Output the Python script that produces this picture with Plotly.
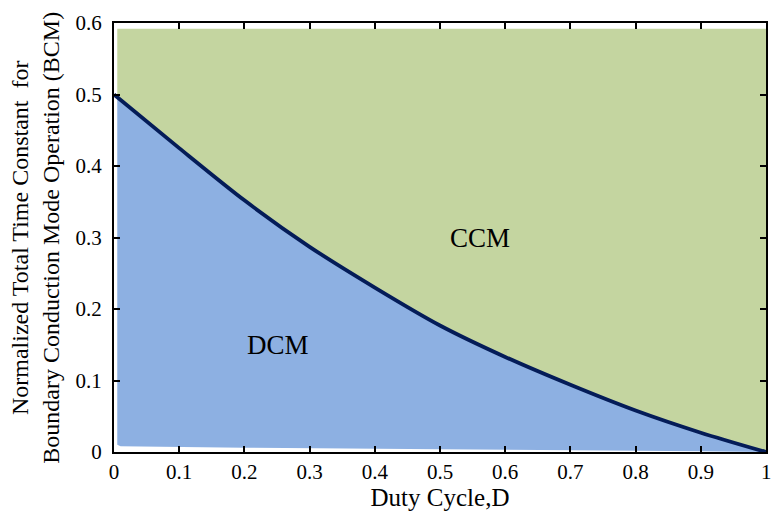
import plotly.graph_objects as go

# Data
duty = [0.0, 0.1, 0.2, 0.3, 0.4, 0.5, 0.6, 0.7, 0.8, 0.9, 1.0]
bcm_tau = [0.5, 0.425, 0.352, 0.287, 0.230, 0.177, 0.133, 0.094, 0.058, 0.027, 0.0]

# DCM region lower edge (slight offset above zero as in the reference)
dcm_bottom_x = [1.0, 0.9, 0.5, 0.2, 0.01, 0.005]
dcm_bottom_y = [0.0, 0.001, 0.004, 0.006, 0.008, 0.01]
ccm_top = 0.592
fill_left = 0.005

x_ticks = [0, 0.1, 0.2, 0.3, 0.4, 0.5, 0.6, 0.7, 0.8, 0.9, 1]
x_tick_text = ["0", "0.1", "0.2", "0.3", "0.4", "0.5", "0.6", "0.7", "0.8", "0.9", "1"]
y_ticks = [0, 0.1, 0.2, 0.3, 0.4, 0.5, 0.6]
y_tick_text = ["0", "0.1", "0.2", "0.3", "0.4", "0.5", "0.6"]

region_labels = ["CCM", "DCM"]
label_x = [0.562, 0.252]
label_y = [0.299, 0.150]

GREEN = "#c4d5a0"
BLUE = "#8db0e2"
LINE = "#041c58"
FONT = "Liberation Serif"

fig = go.Figure()

# CCM (green) region: above the curve
cx = [fill_left] + duty[1:] + [1.0, fill_left]
cy = [bcm_tau[0] - 0.003] + bcm_tau[1:] + [ccm_top, ccm_top]
fig.add_trace(go.Scatter(x=cx, y=cy, fill="toself", fillcolor=GREEN, mode="none",
                         hoverinfo="skip", showlegend=False))

# DCM (blue) region: below the curve
bx = [fill_left, fill_left] + duty[1:] + dcm_bottom_x
by = [0.515, bcm_tau[0] - 0.003] + bcm_tau[1:] + dcm_bottom_y
fig.add_trace(go.Scatter(x=bx, y=by, fill="toself", fillcolor=BLUE, mode="none",
                         hoverinfo="skip", showlegend=False))

# Boundary curve
fig.add_trace(go.Scatter(x=duty, y=bcm_tau, mode="lines",
                         line=dict(color=LINE, width=3.8, shape="spline", smoothing=0.8),
                         showlegend=False))

for t, x, y in zip(region_labels, label_x, label_y):
    fig.add_annotation(x=x, y=y, text=t, showarrow=False,
                       font=dict(family=FONT, size=27, color="black"))

# last x tick label sits at the page edge (plotly would hide it)
fig.add_annotation(x=x_ticks[-1], xref="x", y=0, yref="paper", yanchor="top", xanchor="center",
                   yshift=-6, text=x_tick_text[-1], showarrow=False,
                   font=dict(family=FONT, size=21, color="black"))

fig.add_annotation(xref="paper", yref="paper", x=(35 - 114) / 654, y=0.5,
                   xanchor="center", yanchor="middle",
                   text="Normalized Total Time Constant  for<br>Boundary Conduction Mode Operation (BCM)",
                   textangle=-90, showarrow=False,
                   font=dict(family=FONT, size=24, color="black"))

fig.update_xaxes(range=[0, 1], tickvals=x_ticks[:-1], ticktext=x_tick_text[:-1],
                 ticks="inside", ticklen=6, tickwidth=2, tickcolor="black",
                 showline=True, linecolor="black", linewidth=2, mirror="ticks",
                 showgrid=False, zeroline=False,
                 tickfont=dict(family=FONT, size=21, color="black"),
                 title=dict(text="Duty Cycle,D", font=dict(family=FONT, size=25, color="black"), standoff=2))
fig.update_yaxes(range=[0, 0.6], tickvals=y_ticks, ticktext=y_tick_text,
                 ticks="inside", ticklen=6, tickwidth=2, tickcolor="black",
                 showline=True, linecolor="black", linewidth=2, mirror="ticks",
                 showgrid=False, zeroline=False, ticklabelstandoff=6,
                 tickfont=dict(family=FONT, size=21, color="black"))

fig.update_layout(width=771, height=516, margin=dict(l=114, r=3, t=23, b=64),
                  plot_bgcolor="white", paper_bgcolor="white")

fig.write_html("out.html")
